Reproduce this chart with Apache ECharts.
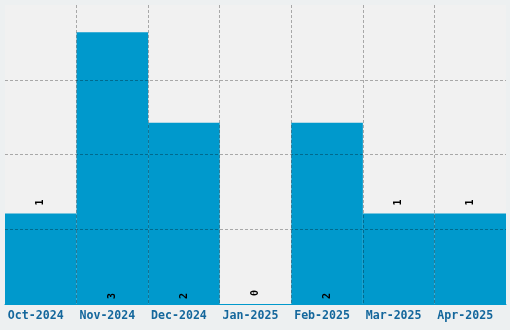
<!DOCTYPE html>
<html><head><meta charset="utf-8">
<script src="https://cdn.jsdelivr.net/npm/echarts@6/dist/echarts.min.js"></script>
<style>html,body{margin:0;padding:0;background:#edf0f1;}#c{width:510px;height:330px;}</style>
</head><body><div id="c"></div>
<script>
const categories = ['Oct-2024','Nov-2024','Dec-2024','Jan-2025','Feb-2025','Mar-2025','Apr-2025'];
const counts = [1, 3, 2, 0, 2, 1, 1];
const labelPlaces = ['top','insideBottom','insideBottom','top','insideBottom','top','top'];

const grid = 'rgba(0,0,0,0.3)';
const clear = 'rgba(0,0,0,0)';
const chart = echarts.init(document.getElementById('c'), null, {renderer:'canvas'});
chart.setOption({
  backgroundColor: '#edf0f1',
  animation: false,
  grid: {left:5, right:4, top:5, bottom:26, show:true, backgroundColor:'#f1f1f1', borderWidth:0},
  xAxis: {
    type:'category', data: categories, z: 5,
    axisTick:{show:false},
    axisLine:{show:true, lineStyle:{color:'#0099cc', width:1}},
    axisLabel:{color:'#14679c', fontFamily:'DejaVu Sans Mono', fontWeight:'bold', fontSize:11.6, margin:6, interval:0, padding:[0,10,0,0]},
    splitLine:{show:true, interval:0, lineStyle:{type:[3,2], width:1, color:[clear, grid, grid, grid, grid, grid, grid, clear]}}
  },
  yAxis: [
    {type:'value', min:0, max:3.3, show:true, axisLine:{show:false}, axisTick:{show:false}, axisLabel:{show:false}, splitLine:{show:false}},
    {type:'value', min:0, max:4, interval:1, z:5, position:'left', axisLine:{show:false}, axisTick:{show:false}, axisLabel:{show:false},
      splitLine:{show:true, lineStyle:{type:[3,2], width:1, color:[clear, grid, grid, grid, clear]}}}
  ],
  series: [{
    type:'bar', yAxisIndex:0, barCategoryGap:'0%',
    itemStyle:{color:'#0099cc'},
    data: counts.map((v,i)=>({value:v, label:{position:labelPlaces[i], distance: labelPlaces[i]==='top'?8:5}})),
    label:{show:true, rotate:90, align:'left', verticalAlign:'middle', color:'#000', fontFamily:'DejaVu Sans Mono', fontWeight:'bold', fontSize:10}
  }]
});
</script></body></html>
